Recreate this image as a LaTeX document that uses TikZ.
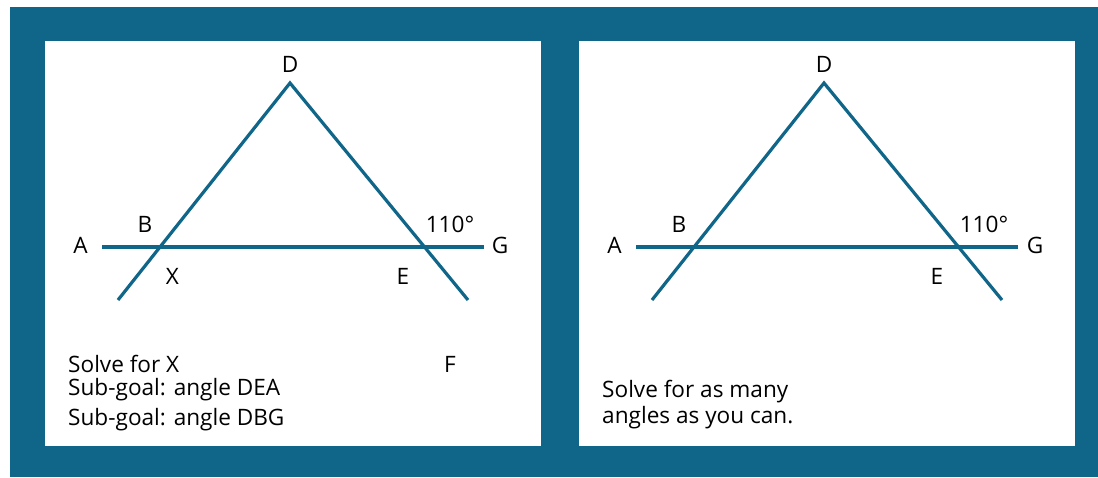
\documentclass[tikz,border=0pt]{standalone}
\usepackage{fontspec}
\setmainfont{Open Sans}
\definecolor{teal}{HTML}{0F6689}
\begin{document}
\begin{tikzpicture}[x=1pt,y=-1pt,
  lbl/.style={inner sep=0pt,anchor=base,font=\fontsize{22.6}{26}\selectfont},
  txt/.style={inner sep=0pt,anchor=base west,font=\fontsize{22.6}{26}\selectfont},
  geo/.style={draw=teal,line width=3.2pt}]
\useasboundingbox (0,0) rectangle (1098,477);
\fill[white] (0,0) rectangle (1098,477);
\fill[teal] (10,7) rectangle (1098,477);
\fill[white] (45,41) rectangle (541,446);
\fill[white] (579,41) rectangle (1075,446);
% left panel
\coordinate (D1) at (290,83);
\coordinate (L1) at (118,300);
\coordinate (R1) at (468,300);
\coordinate (A1) at (102,247);
\coordinate (G1) at (484,247);
\draw[geo] (L1) -- (D1) -- (R1);
\draw[geo] (A1) -- (G1);
\node[lbl] (tD1) at (290,72) {D};
\node[lbl] (tA1) at (80.5,253) {A};
\node[lbl] (tB1) at (145,232) {B};
\node[lbl] (t1101) at (450,232) {110°};
\node[lbl] (tG1) at (500,253) {G};
\node[lbl] (tX1) at (172.5,284) {X};
\node[lbl] (tE1) at (403,284) {E};
\node[lbl] (tF1) at (450,372) {F};
\node[txt] (s1) at (68,372) {Solve for X};
\node[txt] (s2) at (68,395) {Sub-goal: angle DEA};
\node[txt] (s3) at (68,425) {Sub-goal: angle DBG};
% right panel
\coordinate (D2) at (824,83);
\coordinate (L2) at (652,300);
\coordinate (R2) at (1002,300);
\coordinate (A2) at (636,247);
\coordinate (G2) at (1018,247);
\draw[geo] (L2) -- (D2) -- (R2);
\draw[geo] (A2) -- (G2);
\node[lbl] (tD2) at (824,72) {D};
\node[lbl] (tA2) at (614.5,253) {A};
\node[lbl] (tB2) at (679,232) {B};
\node[lbl] (t1102) at (984,232) {110°};
\node[lbl] (tG2) at (1035,253) {G};
\node[lbl] (tE2) at (937,284) {E};
\node[txt] (r1) at (602,397) {Solve for as many};
\node[txt] (r2) at (602,423) {angles as you can.};
\end{tikzpicture}
\end{document}
